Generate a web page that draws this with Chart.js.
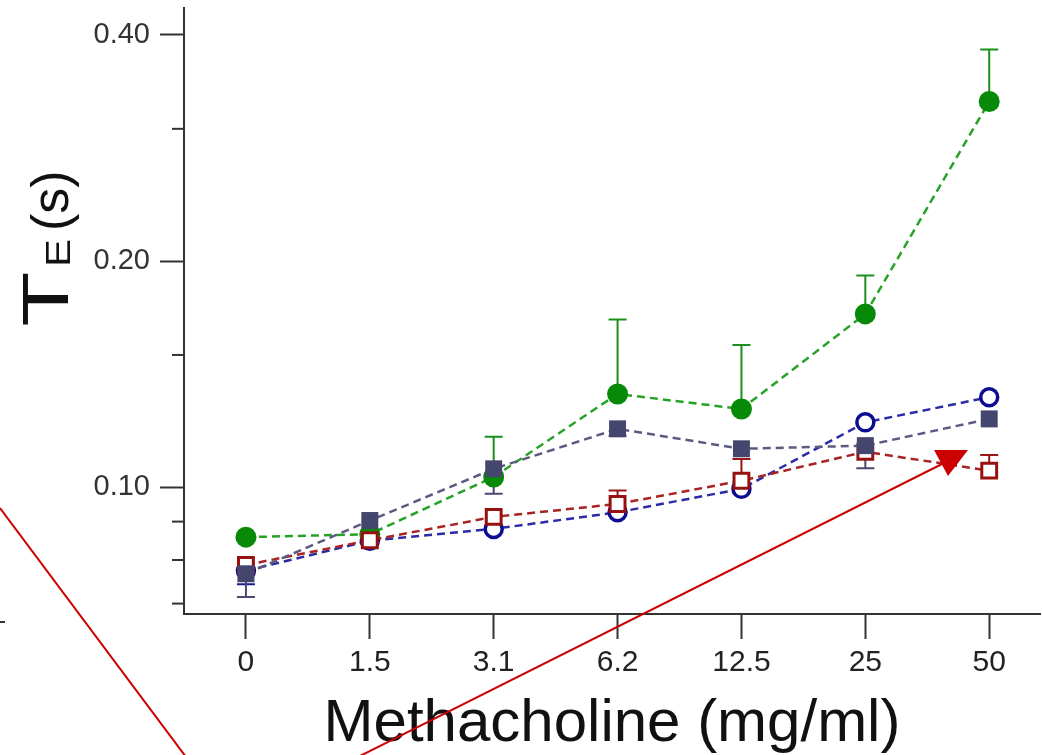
<!DOCTYPE html>
<html>
<head>
<meta charset="utf-8">
<script src="https://cdn.jsdelivr.net/npm/chart.js@4.4.1/dist/chart.umd.min.js"></script>
<style>
  html, body { margin: 0; padding: 0; background: #fff; }
  #wrap { width: 1042px; height: 755px; }
</style>
</head>
<body>
<div id="wrap"><canvas id="chart" width="1042" height="755"></canvas></div>
<script>
// methacholine doses (category positions on x)
const doses = ['0', '1.5', '3.1', '6.2', '12.5', '25', '50'];

// green filled circles
const greenTe = [0.0858, 0.0866, 0.1032, 0.1331, 0.1271, 0.1701, 0.3262];
const greenUpper = [null, null, 0.1167, 0.1672, 0.1547, 0.1913, 0.3825];
// blue open circles
const blueTe = [0.0774, 0.0849, 0.0880, 0.0926, 0.0995, 0.1220, 0.1318];
const blueLower = [0.0743, null, null, null, null, null, null];
// slate filled squares
const slateTe = [0.0767, 0.0903, 0.1058, 0.1196, 0.1125, 0.1136, 0.1233];
const slateLower = [0.0714, null, 0.0980, 0.1171, null, 0.1060, null];
// red open squares
const redTe = [0.0788, 0.0850, 0.0913, 0.0950, 0.1020, 0.1115, 0.1052];
const redUpper = [null, null, null, 0.0990, 0.1090, null, 0.1104];

const yTicks = [0.07, 0.08, 0.09, 0.10, 0.15, 0.20, 0.30, 0.40];
const yLabeled = [0.10, 0.20, 0.40];

const FONT = "'Liberation Sans', Arial, Helvetica, sans-serif";
const toPoints = arr => arr.map((v, i) => ({ x: i, y: v }));

const errorBars = [
  { values: greenTe, ends: greenUpper, color: '#1b8f1b' },
  { values: blueTe, ends: blueLower, color: '#1c1c8c' },
  { values: slateTe, ends: slateLower, color: '#4a4a70' },
  { values: redTe, ends: redUpper, color: '#9a1515' }
];

// red annotation strokes laid over the figure
const arrowLines = [
  [[0, 508], [186, 757]],
  [[358, 757], [948, 461]]
];
const arrowHead = [[934, 450], [968, 450], [948, 476]];

const decor = {
  id: 'decor',
  beforeDatasetsDraw(chart) {
    const { ctx, scales: { x, y } } = chart;
    ctx.save();
    ctx.lineWidth = 2;
    errorBars.forEach(s => {
      ctx.strokeStyle = s.color;
      s.ends.forEach((e, i) => {
        if (e == null) return;
        const px = x.getPixelForValue(i);
        const p0 = y.getPixelForValue(s.values[i]);
        const p1 = y.getPixelForValue(e);
        ctx.beginPath();
        ctx.moveTo(px, p0); ctx.lineTo(px, p1);
        ctx.moveTo(px - 9, p1); ctx.lineTo(px + 9, p1);
        ctx.stroke();
      });
    });
    ctx.restore();
  },
  afterDraw(chart) {
    const { ctx, chartArea, scales: { y } } = chart;
    ctx.save();
    // minor ticks on the log axis
    ctx.strokeStyle = '#333';
    ctx.lineWidth = 2;
    yTicks.filter(v => !yLabeled.includes(v)).forEach(v => {
      const py = y.getPixelForValue(v);
      ctx.beginPath();
      ctx.moveTo(chartArea.left - 12, py);
      ctx.lineTo(chartArea.left, py);
      ctx.stroke();
    });

    // y title: T with small E, then (s)
    ctx.fillStyle = '#111';
    ctx.textBaseline = 'alphabetic';
    ctx.textAlign = 'left';
    ctx.translate(68, 325);
    ctx.rotate(-Math.PI / 2);
    ctx.save();
    ctx.scale(1.4, 1);
    ctx.font = '64px ' + FONT;
    ctx.fillText('T', -1, 0);
    ctx.restore();
    ctx.save();
    ctx.scale(1.2, 1);
    ctx.font = '35px ' + FONT;
    ctx.fillText('E', 58 / 1.2, 2);
    ctx.restore();
    ctx.font = '52px ' + FONT;
    ctx.fillText('(s)', 94, 0);
    ctx.setTransform(1, 0, 0, 1, 0, 0);

    // annotation arrow
    ctx.strokeStyle = '#cc0000';
    ctx.fillStyle = '#cc0000';
    ctx.lineWidth = 2;
    arrowLines.forEach(([a, b]) => {
      ctx.beginPath();
      ctx.moveTo(a[0], a[1]); ctx.lineTo(b[0], b[1]);
      ctx.stroke();
    });
    ctx.beginPath();
    ctx.moveTo(arrowHead[0][0], arrowHead[0][1]);
    arrowHead.slice(1).forEach(p => ctx.lineTo(p[0], p[1]));
    ctx.closePath();
    ctx.fill();

    ctx.strokeStyle = '#333';
    ctx.beginPath();
    ctx.moveTo(0, 622); ctx.lineTo(5, 622);
    ctx.stroke();
    ctx.restore();
  }
};

const dashed = [8, 5];

new Chart(document.getElementById('chart'), {
  type: 'line',
  data: {
    datasets: [
      {
        label: 'slate', data: toPoints(slateTe), order: 0,
        borderColor: '#5b5b82', borderWidth: 2.5, borderDash: dashed,
        pointStyle: 'rect', pointRadius: 12, pointBorderWidth: 0,
        pointBackgroundColor: '#45466e', pointBorderColor: '#45466e'
      },
      {
        label: 'red', data: toPoints(redTe), order: 1,
        borderColor: '#a82323', borderWidth: 2.5, borderDash: dashed,
        pointStyle: 'rect', pointRadius: 10.5, pointBorderWidth: 3,
        pointBackgroundColor: '#ffffff', pointBorderColor: '#961010'
      },
      {
        label: 'green', data: toPoints(greenTe), order: 2,
        borderColor: '#26a226', borderWidth: 2.5, borderDash: dashed,
        pointStyle: 'circle', pointRadius: 10.5, pointBorderWidth: 0,
        pointBackgroundColor: '#078a07', pointBorderColor: '#078a07'
      },
      {
        label: 'blue', data: toPoints(blueTe), order: 3,
        borderColor: '#2b2ba6', borderWidth: 2.5, borderDash: dashed,
        pointStyle: 'circle', pointRadius: 8.5, pointBorderWidth: 3.5,
        pointBackgroundColor: '#ffffff', pointBorderColor: '#0c0c92'
      }
    ]
  },
  options: {
    responsive: false,
    animation: false,
    devicePixelRatio: 1,
    layout: { autoPadding: false, padding: { top: 8, right: 2, left: 0, bottom: 0 } },
    plugins: { legend: { display: false }, tooltip: { enabled: false } },
    elements: { line: { tension: 0, fill: false } },
    scales: {
      x: {
        type: 'linear', min: -0.5, max: 6.41,
        afterBuildTicks: s => { s.ticks = doses.map((d, i) => ({ value: i })); },
        afterFit: s => { s.height = 141; s.paddingLeft = 0; s.paddingRight = 0; },
        ticks: {
          callback: v => doses[v], color: '#222', padding: 6,
          maxRotation: 0, autoSkip: false, font: { family: FONT, size: 30 }
        },
        grid: { drawOnChartArea: false, tickLength: 25, tickWidth: 2, tickColor: '#333' },
        border: { display: true, color: '#333', width: 2 },
        title: {
          display: true, text: 'Methacholine (mg/ml)', color: '#111',
          font: { family: FONT, size: 60, lineHeight: 1 }, padding: { top: 0, bottom: 1 }
        }
      },
      y: {
        type: 'logarithmic', min: 0.0678, max: 0.4345,
        afterBuildTicks: s => { s.ticks = yTicks.map(v => ({ value: v })); },
        afterFit: s => { s.width = 184; s.paddingTop = 0; s.paddingBottom = 0; },
        ticks: {
          callback: v => yLabeled.includes(v) ? v.toFixed(2) : '',
          color: '#333', padding: 10, autoSkip: false,
          font: { family: FONT, size: 29 }
        },
        grid: {
          drawOnChartArea: false, tickLength: 24, tickWidth: 2,
          tickColor: c => yLabeled.includes(c.tick.value) ? '#333' : 'rgba(0,0,0,0)'
        },
        border: { display: true, color: '#333', width: 2 }
      }
    }
  },
  plugins: [decor]
});
</script>
</body>
</html>
